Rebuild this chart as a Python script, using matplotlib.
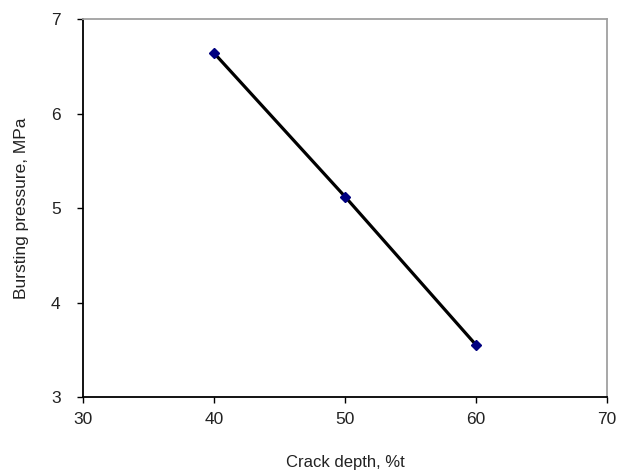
import matplotlib
matplotlib.use("Agg")
import matplotlib.pyplot as plt

# Data
crack_depth = [40, 50, 60]
bursting_pressure = [6.64, 5.12, 3.55]

x_ticks = [30, 40, 50, 60, 70]
y_ticks = [3, 4, 5, 6, 7]

plt.rcParams["font.family"] = ["Liberation Sans", "DejaVu Sans"]

fig = plt.figure(figsize=(6.19, 4.75), dpi=100)
ax = fig.add_axes([0.134, 0.164, 0.847, 0.796])

ax.plot(crack_depth, bursting_pressure, color="black", linewidth=2.3, zorder=2)
ax.plot(crack_depth, bursting_pressure, linestyle="none", marker="D",
        markersize=5.5, color="#000080", zorder=3)

ax.set_xlim(30, 70)
ax.set_ylim(3, 7)
ax.set_xticks(x_ticks)
ax.set_yticks(y_ticks)
ax.tick_params(direction="out", length=4, width=1, labelsize=12.5,
               labelcolor="#222222")
ax.tick_params(axis="y", pad=12)
ax.tick_params(axis="x", pad=7)

ax.set_xlabel("Crack depth, %t", fontsize=12, labelpad=20, color="#222222")
ax.set_ylabel("Bursting pressure, MPa", fontsize=12.5, labelpad=16, color="#222222")

for side in ["left", "bottom"]:
    ax.spines[side].set_color("black")
    ax.spines[side].set_linewidth(1.3)
for side in ["top", "right"]:
    ax.spines[side].set_color("#a0a0a0")
    ax.spines[side].set_linewidth(1.3)

fig.savefig("out.png", dpi=100)
